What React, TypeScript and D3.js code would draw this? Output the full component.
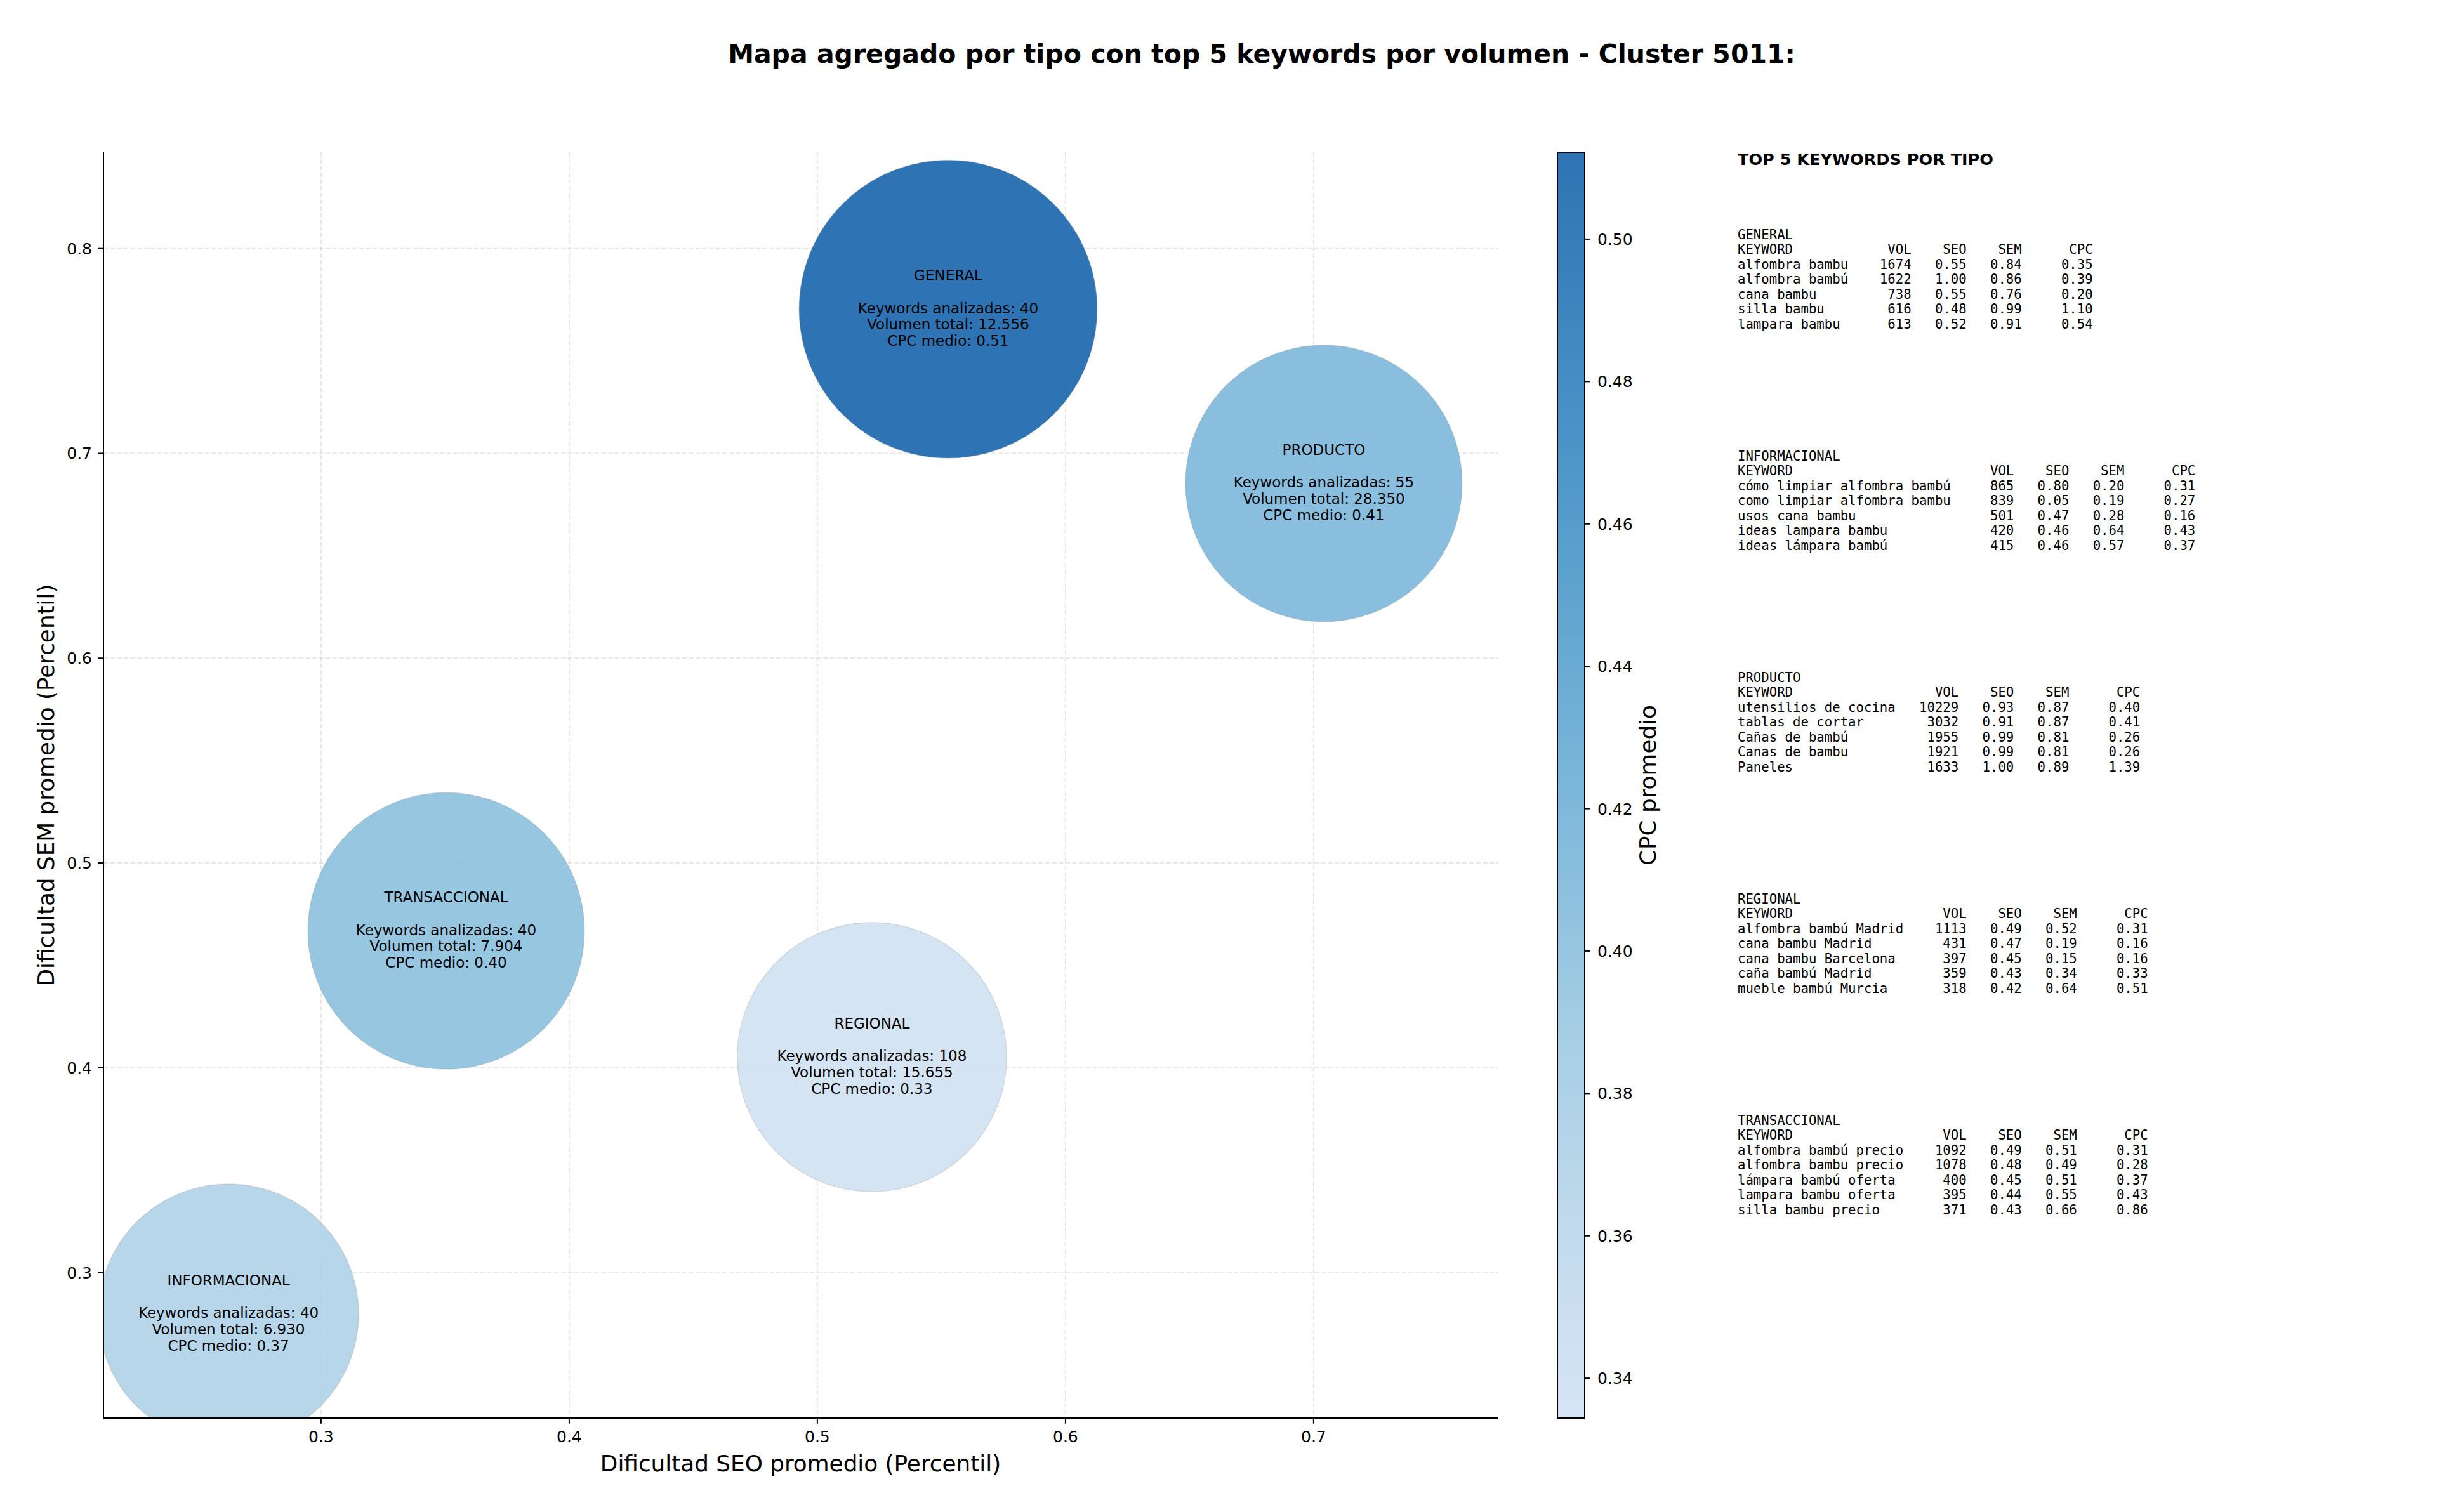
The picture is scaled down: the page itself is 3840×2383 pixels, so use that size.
import * as d3 from 'd3'
import React, { useEffect, useRef } from 'react'

// datos agregados por tipo
const tipos = ['GENERAL', 'INFORMACIONAL', 'PRODUCTO', 'REGIONAL', 'TRANSACCIONAL']
const seoMedio = [0.5527, 0.2627, 0.7041, 0.522, 0.3504]
const semMedio = [0.7704, 0.2797, 0.6853, 0.4052, 0.4668]
const cpcMedio = [0.5122, 0.37, 0.4108, 0.3344, 0.4]
const keywordsAnalizadas = [40, 40, 55, 108, 40]
const volumenTotal = [12556, 6930, 28350, 15655, 7904]
// area del marcador (pt^2)
const areaBurbuja = [35300, 26900, 30400, 28800, 30400]

// top 5 keywords: [keyword, vol, seo, sem, cpc]
const generalTop: [string, number, number, number, number][] = [
  ['alfombra bambu', 1674, 0.55, 0.84, 0.35],
  ['alfombra bambú', 1622, 1.0, 0.86, 0.39],
  ['cana bambu', 738, 0.55, 0.76, 0.2],
  ['silla bambu', 616, 0.48, 0.99, 1.1],
  ['lampara bambu', 613, 0.52, 0.91, 0.54],
]
const informacionalTop: [string, number, number, number, number][] = [
  ['cómo limpiar alfombra bambú', 865, 0.8, 0.2, 0.31],
  ['como limpiar alfombra bambu', 839, 0.05, 0.19, 0.27],
  ['usos cana bambu', 501, 0.47, 0.28, 0.16],
  ['ideas lampara bambu', 420, 0.46, 0.64, 0.43],
  ['ideas lámpara bambú', 415, 0.46, 0.57, 0.37],
]
const productoTop: [string, number, number, number, number][] = [
  ['utensilios de cocina', 10229, 0.93, 0.87, 0.4],
  ['tablas de cortar', 3032, 0.91, 0.87, 0.41],
  ['Cañas de bambú', 1955, 0.99, 0.81, 0.26],
  ['Canas de bambu', 1921, 0.99, 0.81, 0.26],
  ['Paneles', 1633, 1.0, 0.89, 1.39],
]
const regionalTop: [string, number, number, number, number][] = [
  ['alfombra bambú Madrid', 1113, 0.49, 0.52, 0.31],
  ['cana bambu Madrid', 431, 0.47, 0.19, 0.16],
  ['cana bambu Barcelona', 397, 0.45, 0.15, 0.16],
  ['caña bambú Madrid', 359, 0.43, 0.34, 0.33],
  ['mueble bambú Murcia', 318, 0.42, 0.64, 0.51],
]
const transaccionalTop: [string, number, number, number, number][] = [
  ['alfombra bambú precio', 1092, 0.49, 0.51, 0.31],
  ['alfombra bambu precio', 1078, 0.48, 0.49, 0.28],
  ['lámpara bambú oferta', 400, 0.45, 0.51, 0.37],
  ['lampara bambu oferta', 395, 0.44, 0.55, 0.43],
  ['silla bambu precio', 371, 0.43, 0.66, 0.86],
]
const topPorTipo = [generalTop, informacionalTop, productoTop, regionalTop, transaccionalTop]

const W = 3840
const H = 2383
const FONT = 'DejaVu Sans, sans-serif'
const MONO = 'DejaVu Sans Mono, monospace'

// matplotlib Blues
const bluesColors = ['#f7fbff', '#deebf7', '#c6dbef', '#9ecae1', '#6baed6', '#4292c6', '#2171b5', '#08519c', '#08306b']
const blues = d3
  .scaleLinear<string>()
  .domain(d3.range(9).map((i) => i / 8))
  .range(bluesColors)
  .interpolate(d3.interpolateRgb)

const App = () => {
  const ref = useRef<SVGSVGElement>(null)

  useEffect(() => {
    document.body.style.margin = '0'
    const svg = d3.select(ref.current)
    svg.selectAll('*').remove()

    const left = 163
    const right = 2360
    const top = 240
    const bottom = 2235

    const x = d3.scaleLinear().domain([0.2123, 0.7742]).range([left, right])
    const y = d3.scaleLinear().domain([0.2289, 0.847]).range([bottom, top])

    const vmin = d3.min(cpcMedio) as number
    const vmax = d3.max(cpcMedio) as number
    const norm = d3.scaleLinear().domain([vmin, vmax]).range([0.2, 0.8])
    const color = (v: number) => blues(norm(v))

    // px per pt (180 dpi)
    const ptPx = 180 / 72
    const r = d3
      .scaleSqrt()
      .domain([0, d3.max(areaBurbuja) as number])
      .range([0, (Math.sqrt(d3.max(areaBurbuja) as number) / 2) * ptPx])

    svg
      .append('rect')
      .attr('width', W)
      .attr('height', H)
      .attr('fill', 'white')

    // title
    svg
      .append('text')
      .attr('x', 1988)
      .attr('y', 99)
      .attr('text-anchor', 'middle')
      .attr('font-family', FONT)
      .attr('font-weight', 'bold')
      .attr('font-size', 41)
      .text('Mapa agregado por tipo con top 5 keywords por volumen - Cluster 5011:')

    const defs = svg.append('defs')
    defs
      .append('clipPath')
      .attr('id', 'plotclip')
      .append('rect')
      .attr('x', left)
      .attr('y', top)
      .attr('width', right - left)
      .attr('height', bottom - top)

    // grid
    const grid = svg.append('g')
    const xt = x.ticks(5)
    const yt = y.ticks(6)
    grid
      .selectAll('line.gx')
      .data(xt)
      .enter()
      .append('line')
      .attr('x1', (d) => x(d))
      .attr('x2', (d) => x(d))
      .attr('y1', top)
      .attr('y2', bottom)
    grid
      .selectAll('line.gy')
      .data(yt)
      .enter()
      .append('line')
      .attr('x1', left)
      .attr('x2', right)
      .attr('y1', (d) => y(d))
      .attr('y2', (d) => y(d))
    grid
      .selectAll('line')
      .attr('stroke', '#b0b0b0')
      .attr('stroke-opacity', 0.3)
      .attr('stroke-width', 2)
      .attr('stroke-dasharray', '7.4,3.2')

    // bubbles
    const idx = d3.range(tipos.length)
    const bubbles = svg.append('g').attr('clip-path', 'url(#plotclip)')
    bubbles
      .selectAll('circle')
      .data(idx)
      .enter()
      .append('circle')
      .attr('cx', (i) => x(seoMedio[i]))
      .attr('cy', (i) => y(semMedio[i]))
      .attr('r', (i) => r(areaBurbuja[i]))
      .attr('fill', (i) => color(cpcMedio[i]))
      .attr('fill-opacity', 0.9)
      .attr('stroke', '#9a9a9a')
      .attr('stroke-opacity', 0.35)
      .attr('stroke-width', 1.2)

    // bubble labels
    const lineH = 25.7
    idx.forEach((i) => {
      const lines = [
        tipos[i],
        '',
        `Keywords analizadas: ${keywordsAnalizadas[i]}`,
        `Volumen total: ${d3.format(',')(volumenTotal[i]).replace(/,/g, '.')}`,
        `CPC medio: ${cpcMedio[i].toFixed(2)}`,
      ]
      const t = svg
        .append('text')
        .attr('text-anchor', 'middle')
        .attr('font-family', FONT)
        .attr('font-size', 23)
        .attr('fill', 'black')
      lines.forEach((l, k) => {
        t.append('tspan')
          .attr('x', x(seoMedio[i]))
          .attr('y', y(semMedio[i]) - 45 + k * lineH)
          .text(l)
      })
    })

    // spines
    svg
      .append('line')
      .attr('x1', left)
      .attr('x2', left)
      .attr('y1', top)
      .attr('y2', bottom + 1)
      .attr('stroke', 'black')
      .attr('stroke-width', 2)
    svg
      .append('line')
      .attr('x1', left - 1)
      .attr('x2', right)
      .attr('y1', bottom)
      .attr('y2', bottom)
      .attr('stroke', 'black')
      .attr('stroke-width', 2)

    // x ticks
    const xg = svg.append('g')
    xt.forEach((d) => {
      xg.append('line')
        .attr('x1', x(d))
        .attr('x2', x(d))
        .attr('y1', bottom)
        .attr('y2', bottom + 8.75)
        .attr('stroke', 'black')
        .attr('stroke-width', 2)
      xg.append('text')
        .attr('x', x(d))
        .attr('y', bottom + 38)
        .attr('text-anchor', 'middle')
        .attr('font-family', FONT)
        .attr('font-size', 25)
        .text(d3.format('.1f')(d))
    })
    // y ticks
    const yg = svg.append('g')
    yt.forEach((d) => {
      yg.append('line')
        .attr('x1', left - 8.75)
        .attr('x2', left)
        .attr('y1', y(d))
        .attr('y2', y(d))
        .attr('stroke', 'black')
        .attr('stroke-width', 2)
      yg.append('text')
        .attr('x', left - 18)
        .attr('y', y(d) + 9)
        .attr('text-anchor', 'end')
        .attr('font-family', FONT)
        .attr('font-size', 25)
        .text(d3.format('.1f')(d))
    })

    // axis labels
    svg
      .append('text')
      .attr('x', (left + right) / 2)
      .attr('y', 2319)
      .attr('text-anchor', 'middle')
      .attr('font-family', FONT)
      .attr('font-size', 35.8)
      .text('Dificultad SEO promedio (Percentil)')
    svg
      .append('text')
      .attr('transform', `translate(85, ${(top + bottom) / 2}) rotate(-90)`)
      .attr('text-anchor', 'middle')
      .attr('font-family', FONT)
      .attr('font-size', 35.8)
      .text('Dificultad SEM promedio (Percentil)')

    // colorbar
    const cbL = 2454
    const cbR = 2497
    const cy = d3.scaleLinear().domain([vmin, vmax]).range([bottom, top])
    const grad = defs
      .append('linearGradient')
      .attr('id', 'cbgrad')
      .attr('x1', 0)
      .attr('x2', 0)
      .attr('y1', 1)
      .attr('y2', 0)
    d3.range(0, 1.0001, 0.05).forEach((t) => {
      grad
        .append('stop')
        .attr('offset', `${t * 100}%`)
        .attr('stop-color', blues(0.2 + 0.6 * t))
    })
    svg
      .append('rect')
      .attr('x', cbL)
      .attr('y', top)
      .attr('width', cbR - cbL)
      .attr('height', bottom - top)
      .attr('fill', 'url(#cbgrad)')
      .attr('fill-opacity', 0.9)
    svg
      .append('rect')
      .attr('x', cbL)
      .attr('y', top)
      .attr('width', cbR - cbL)
      .attr('height', bottom - top)
      .attr('fill', 'none')
      .attr('stroke', 'black')
      .attr('stroke-width', 2)
    const cg = svg.append('g')
    cy.ticks(10).forEach((d) => {
      cg.append('line')
        .attr('x1', cbR)
        .attr('x2', cbR + 8.75)
        .attr('y1', cy(d))
        .attr('y2', cy(d))
        .attr('stroke', 'black')
        .attr('stroke-width', 2)
      cg.append('text')
        .attr('x', cbR + 20)
        .attr('y', cy(d) + 9)
        .attr('font-family', FONT)
        .attr('font-size', 25)
        .text(d3.format('.2f')(d))
    })
    svg
      .append('text')
      .attr('transform', `translate(2609, ${(top + bottom) / 2}) rotate(-90)`)
      .attr('text-anchor', 'middle')
      .attr('font-family', FONT)
      .attr('font-size', 35.8)
      .text('CPC promedio')

    // keyword tables
    const tx = 2738
    svg
      .append('text')
      .attr('x', tx)
      .attr('y', 260)
      .attr('font-family', FONT)
      .attr('font-weight', 'bold')
      .attr('font-size', 25.5)
      .text('TOP 5 KEYWORDS POR TIPO')

    const rowH = 23.5
    topPorTipo.forEach((rows, i) => {
      const w = d3.max(rows, (d) => d[0].length) as number
      const lines = [
        tipos[i],
        'KEYWORD'.padEnd(w) + ' ' + 'VOL'.padStart(7) + ' ' + 'SEO'.padStart(6) + ' ' + 'SEM'.padStart(6) + ' ' + 'CPC'.padStart(8),
        ...rows.map(
          (d) =>
            d[0].padEnd(w) +
            ' ' +
            String(d[1]).padStart(7) +
            ' ' +
            d[2].toFixed(2).padStart(6) +
            ' ' +
            d[3].toFixed(2).padStart(6) +
            ' ' +
            d[4].toFixed(2).padStart(8),
        ),
      ]
      const base = 376.6 + i * 349
      const t = svg
        .append('text')
        .attr('font-family', MONO)
        .attr('font-size', 20.66)
        .style('white-space', 'pre')
      lines.forEach((l, k) => {
        t.append('tspan')
          .attr('x', tx)
          .attr('y', base + k * rowH)
          .text(l)
      })
    })
  }, [])

  return <svg ref={ref} width={W} height={H} style={{ display: 'block' }}></svg>
}

export default App
